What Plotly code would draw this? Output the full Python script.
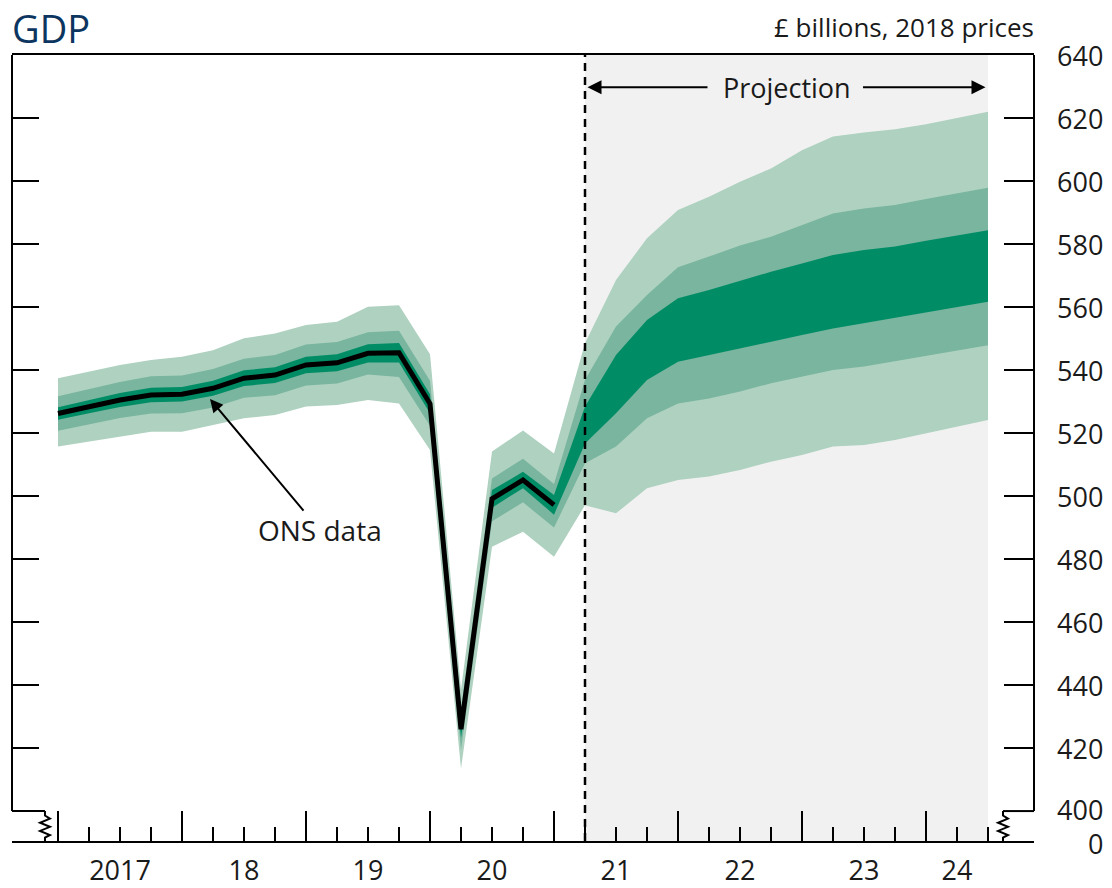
import plotly.graph_objects as go

# ---------------- data ----------------
quarters = ["2017 Q1", "2017 Q2", "2017 Q3", "2017 Q4",
            "2018 Q1", "2018 Q2", "2018 Q3", "2018 Q4",
            "2019 Q1", "2019 Q2", "2019 Q3", "2019 Q4",
            "2020 Q1", "2020 Q2", "2020 Q3", "2020 Q4",
            "2021 Q1", "2021 Q2", "2021 Q3", "2021 Q4",
            "2022 Q1", "2022 Q2", "2022 Q3", "2022 Q4",
            "2023 Q1", "2023 Q2", "2023 Q3", "2023 Q4",
            "2024 Q1", "2024 Q2", "2024 Q3"]

# ONS data (black line), 2017 Q1 - 2021 Q1
ons_gdp = [526.2, 528.4, 530.5, 532.1, 532.3, 534.2, 537.4, 538.4,
           541.6, 542.3, 545.3, 545.5, 529.3, 426.0, 499.1, 505.1, 497.2]

# fan bands (outer, mid, inner = central band)
outer_hi = [537.4, 539.5, 541.6, 543.2, 544.2, 546.3, 550.1, 551.6,
            554.3, 555.3, 560.1, 560.6, 545.0, 438.5, 514.1, 520.8, 513.5,
            548.5, 568.6, 581.8, 590.8, 595.0, 599.8, 604.0, 609.8, 614.1,
            615.4, 616.4, 618.0, 620.0, 622.0]
mid_hi = [531.7, 534.0, 536.2, 538.0, 538.3, 540.3, 543.6, 544.8,
          548.1, 548.9, 552.0, 552.5, 536.6, 432.5, 505.6, 511.8, 503.8,
          536.8, 553.8, 563.8, 572.6, 576.0, 579.5, 582.3, 586.0, 589.7,
          591.3, 592.4, 594.3, 596.1, 597.9]
dark_hi = [528.2, 530.5, 532.7, 534.4, 534.6, 536.6, 539.9, 540.9,
           544.2, 545.0, 548.2, 548.6, 532.3, 428.8, 501.9, 507.7, 500.3,
           528.4, 544.8, 555.9, 562.8, 565.4, 568.4, 571.2, 573.8, 576.5,
           578.1, 579.2, 581.0, 582.7, 584.4]
dark_lo = [524.2, 526.3, 528.3, 529.8, 530.0, 531.8, 534.9, 535.9,
           539.0, 539.6, 542.4, 542.4, 526.3, 423.2, 496.3, 502.5, 494.1,
           516.7, 526.3, 536.8, 542.6, 544.8, 546.9, 549.0, 551.1, 553.2,
           554.8, 556.4, 558.2, 560.0, 561.7]
mid_lo = [520.7, 522.8, 524.8, 526.2, 526.3, 528.1, 531.2, 532.0,
          535.1, 535.7, 538.6, 537.8, 522.3, 419.5, 492.0, 498.0, 490.0,
          510.4, 515.7, 524.7, 529.4, 531.0, 533.2, 535.8, 537.9, 540.0,
          541.1, 542.6, 544.4, 546.2, 547.9]
outer_lo = [515.7, 517.2, 518.8, 520.4, 520.4, 522.5, 524.7, 525.7,
            528.4, 528.9, 530.5, 529.4, 514.6, 413.5, 483.9, 488.7, 480.7,
            497.1, 494.5, 502.5, 505.1, 506.2, 508.3, 510.9, 513.0, 515.7,
            516.2, 517.8, 519.9, 522.0, 524.1]

projection_start = "2021 Q2"
projection_end = "2024 Q3"

year_labels = ["2017", "18", "19", "20", "21", "22", "23", "24"]
year_label_pos = [2017.5, 2018.5, 2019.5, 2020.5, 2021.5, 2022.5, 2023.5, 2024.25]
year_ticks = [2017, 2018, 2019, 2020, 2021, 2022, 2023, 2024]

y_tick_vals = [400, 420, 440, 460, 480, 500, 520, 540, 560, 580, 600, 620, 640]
y_tick_text = ["400", "420", "440", "460", "480", "500", "520", "540", "560",
               "580", "600", "620", "640"]
y_inner_ticks = [420, 440, 460, 480, 500, 520, 540, 560, 580, 600, 620]

# ---------------- layout constants ----------------
Y_BREAK_BOTTOM = 390.5   # where "0" sits on the broken axis
Y_BREAK_TOP = 400
X_MIN, X_MAX = 2016.629, 2024.871
X_BREAK_L, X_BREAK_R = 2016.895, 2024.621

FONT = "Open Sans"
TXT = "#1a1a1a"
LIGHT = "#aed1c0"
MID = "#79b59f"
DARK = "#008d66"
GREY = "#f1f1f1"


def qpos(label):
    y, q = label.split(" Q")
    return int(y) + (int(q) - 1) / 4


x = [qpos(q) for q in quarters]
x_hist = x[:len(ons_gdp)]

fig = go.Figure()


def band(hi, lo, color):
    fig.add_trace(go.Scatter(
        x=x + x[::-1], y=hi + lo[::-1], fill="toself", fillcolor=color,
        line=dict(width=0), mode="lines", hoverinfo="skip", showlegend=False))


band(outer_hi, outer_lo, LIGHT)
band(mid_hi, mid_lo, MID)
band(dark_hi, dark_lo, DARK)

fig.add_trace(go.Scatter(x=x_hist, y=ons_gdp, mode="lines",
                         line=dict(color="black", width=5), showlegend=False))

# dummy trace so the secondary axes are drawn
fig.add_trace(go.Scatter(x=[None], y=[None], xaxis="x2", yaxis="y2",
                         showlegend=False))

shapes = []
# projection shading and dashed line
shapes.append(dict(type="rect", xref="x", yref="paper", x0=qpos(projection_start),
                   x1=qpos(projection_end), y0=0, y1=1, fillcolor=GREY,
                   line=dict(width=0), layer="below"))
shapes.append(dict(type="line", xref="x", yref="paper", x0=qpos(projection_start),
                   x1=qpos(projection_start), y0=0, y1=1,
                   line=dict(color="black", width=2.5, dash="8px,6px")))

frame = dict(color="black", width=2)
shapes.append(dict(type="line", xref="paper", yref="y", x0=0, x1=0,
                   y0=Y_BREAK_TOP, y1=640, line=frame))
shapes.append(dict(type="line", xref="paper", yref="y", x0=1, x1=1,
                   y0=Y_BREAK_TOP, y1=640, line=frame))
shapes.append(dict(type="line", xref="x", yref="y", x0=X_MIN, x1=X_BREAK_L,
                   y0=Y_BREAK_TOP, y1=Y_BREAK_TOP, line=frame))
shapes.append(dict(type="line", xref="x", yref="y", x0=X_BREAK_R, x1=X_MAX,
                   y0=Y_BREAK_TOP, y1=Y_BREAK_TOP, line=frame))


def squiggle(x0):
    dx = 0.04
    pts = [(x0, 400), (x0, 398.6), (x0 + dx, 397.6), (x0 - dx, 396.3),
           (x0 + dx, 395.0), (x0 - dx, 393.7), (x0 + dx, 392.4),
           (x0, 391.6), (x0, Y_BREAK_BOTTOM)]
    path = "M " + " L ".join(f"{a},{b}" for a, b in pts)
    return dict(type="path", xref="x", yref="y", path=path,
                line=dict(color="black", width=2))


shapes.append(squiggle(X_BREAK_L))
shapes.append(squiggle(X_BREAK_R))

annotations = []
annotations.append(dict(text="GDP", xref="paper", yref="paper", x=-0.002, y=1.0345,
                        xanchor="left", yanchor="middle", showarrow=False,
                        font=dict(family=FONT, size=38, color="#0c3560")))
annotations.append(dict(text="£ billions, 2018 prices", xref="paper", yref="paper",
                        x=1.002, y=1.036, xanchor="right", yanchor="middle",
                        showarrow=False,
                        font=dict(family=FONT, size=26, color=TXT)))
# right-hand y labels (right aligned)
lab_font = dict(family=FONT, size=27, color=TXT)
for v, t in zip(y_tick_vals + [Y_BREAK_BOTTOM], y_tick_text + ["0"]):
    shift = 2 if v == Y_BREAK_TOP else (-2 if v == Y_BREAK_BOTTOM else 0)
    annotations.append(dict(text=t, xref="paper", yref="y", x=1.0695, y=v,
                            yshift=shift, xanchor="right", yanchor="middle",
                            showarrow=False, font=lab_font))

# Projection label with arrows
annotations.append(dict(text="Projection", xref="x", yref="y", x=2022.875, y=629.8,
                        showarrow=False, xanchor="center", yanchor="middle",
                        font=dict(family=FONT, size=27, color=TXT)))
arrow = dict(showarrow=True, arrowhead=2, arrowsize=1.4, arrowwidth=2,
             arrowcolor="black", standoff=0, startstandoff=0, text="",
             xref="x", yref="y", axref="x", ayref="y")
annotations.append(dict(arrow, x=2021.27, y=629.8, ax=2022.25, ay=629.8))
annotations.append(dict(arrow, x=2024.48, y=629.8, ax=2023.48, ay=629.8))

# ONS data label
annotations.append(dict(text="ONS data", xref="x", yref="y", x=2019.11, y=489.2,
                        showarrow=False, xanchor="center", yanchor="middle",
                        font=dict(family=FONT, size=28, color=TXT)))
annotations.append(dict(arrow, x=2018.226, y=530.8, ax=2018.99, ay=494.9,
                        arrowsize=1.3))

minor_vals = [v for v in x if v not in year_ticks]

fig.update_layout(
    template="none",
    width=1104, height=880,
    margin=dict(l=4, r=78, t=47, b=47, autoexpand=False),
    paper_bgcolor="white", plot_bgcolor="white",
    shapes=shapes, annotations=annotations,
    showlegend=False,
    xaxis=dict(range=[X_MIN, X_MAX], showgrid=False, zeroline=False,
               automargin=False,
               showline=True, linecolor="black", linewidth=2, mirror=True,
               tickmode="array", tickvals=year_ticks, ticks="inside",
               ticklen=30, tickwidth=2, tickcolor="black",
               showticklabels=False,
               minor=dict(tickmode="array", tickvals=minor_vals, ticks="inside",
                          ticklen=14, tickwidth=2, tickcolor="black",
                          showgrid=False)),
    xaxis2=dict(range=[X_MIN, X_MAX], overlaying="x", anchor="y2", side="bottom",
                showgrid=False, zeroline=False, showline=False, automargin=False,
                tickmode="array", tickvals=year_label_pos, ticktext=year_labels,
                ticks="", ticklabelstandoff=11,
                tickfont=dict(family=FONT, size=27, color=TXT)),
    yaxis=dict(range=[Y_BREAK_BOTTOM, 640], side="right", showgrid=False,
               zeroline=False, showline=False, automargin=False,
               tickmode="array",
               tickvals=y_inner_ticks, ticks="inside", ticklen=30, tickwidth=2,
               tickcolor="black", showticklabels=False),
    yaxis2=dict(range=[Y_BREAK_BOTTOM, 640], overlaying="y", side="left",
                anchor="x", showgrid=False, zeroline=False, showline=False,
                automargin=False,
                tickmode="array", tickvals=y_inner_ticks, ticks="inside",
                ticklen=27, tickwidth=2, tickcolor="black",
                showticklabels=False),
)

fig.write_html("out.html")
